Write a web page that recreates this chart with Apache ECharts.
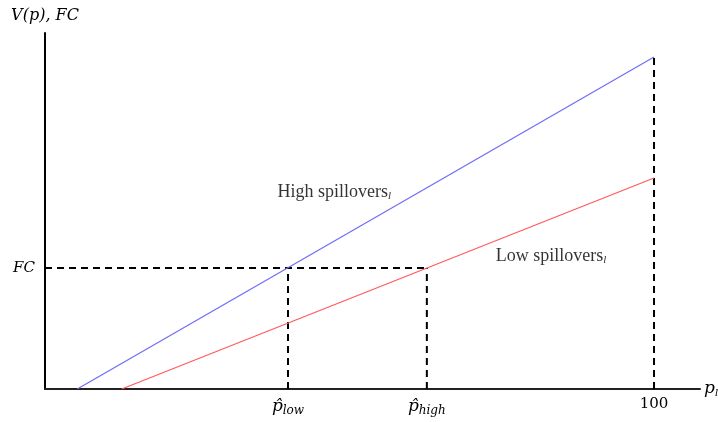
<!DOCTYPE html>
<html>
<head>
<meta charset="utf-8">
<script src="https://cdn.jsdelivr.net/npm/echarts@6/dist/echarts.min.js"></script>
<style>html,body{margin:0;padding:0;background:#fff}#c{width:718px;height:422px}</style>
</head>
<body>
<div id="c"></div>
<script>
// Data
const highX = [5.3, 100];
const highY = [0, 109.75];
const lowX = [12.6, 100];
const lowY = [0, 69.75];
const fcValue = 40;
const pLow = 39.9;
const pHigh = 62.7;
const pMax = 100;
const xTickValues = [pLow, pHigh, pMax];
const xTickLabels = ['{p|p\u0302}{s|low}', '{p|p\u0302}{s|high}', '{n|100}'];
const yTickValues = [fcValue];
const yTickLabels = ['FC'];
const highLabel = 'High spillovers';
const lowLabel = 'Low spillovers';
const highLabelPos = [47.5, 65.1];
const lowLabelPos = [83.1, 43.9];

const chart = echarts.init(document.getElementById('c'));
const serif = 'Liberation Serif';
const dash = { color: '#000', width: 2, type: [7, 5] };

function pairs(xs, ys) { return xs.map((x, i) => [x, ys[i]]); }

chart.setOption({
  animation: false,
  grid: { left: 45, right: 18, top: 33, bottom: 33, outerBoundsMode: 'none', containLabel: false },
  xAxis: {
    type: 'value', min: 0, max: 107.55,
    name: '{i|p}{s|l}', nameLocation: 'end', nameGap: 4,
    nameTextStyle: {
      rich: {
        i: { fontFamily: 'DejaVu Serif', fontStyle: 'italic', fontSize: 17, color: '#000' },
        s: { fontFamily: 'DejaVu Serif', fontStyle: 'italic', fontSize: 10, color: '#000', padding: [8, 0, 0, 0] }
      }
    },
    axisLine: { show: true, onZero: false, lineStyle: { color: '#222', width: 2 } },
    axisTick: { show: false },
    splitLine: { show: false },
    axisLabel: {
      customValues: xTickValues,
      margin: 8,
      formatter: (v) => xTickLabels[xTickValues.indexOf(v)],
      rich: {
        p: { fontFamily: 'DejaVu Serif', fontStyle: 'italic', fontSize: 17, color: '#000' },
        s: { fontFamily: 'DejaVu Serif', fontStyle: 'italic', fontSize: 12, color: '#000', padding: [8, 0, 0, 0] },
        n: { fontFamily: 'DejaVu Serif', fontSize: 15, color: '#000' }
      }
    }
  },
  yAxis: {
    type: 'value', min: 0, max: 117.7,
    name: 'V(p), FC', nameLocation: 'end', nameGap: 9,
    nameTextStyle: { fontFamily: 'DejaVu Serif', fontStyle: 'italic', fontSize: 16, color: '#000' },
    axisLine: { show: true, onZero: false, lineStyle: { color: '#000', width: 2 } },
    axisTick: { show: false },
    splitLine: { show: false },
    axisLabel: {
      customValues: yTickValues,
      margin: 10,
      formatter: (v) => yTickLabels[yTickValues.indexOf(v)],
      fontFamily: 'DejaVu Serif', fontStyle: 'italic', fontSize: 15, color: '#000'
    }
  },
  series: [
    { type: 'line', data: pairs(highX, highY), symbol: 'none', lineStyle: { color: '#6f6cf7', width: 1.2 }, z: 3 },
    { type: 'line', data: pairs(lowX, lowY), symbol: 'none', lineStyle: { color: '#ff5a5a', width: 1.2 }, z: 3 },
    { type: 'line', data: [[0, fcValue], [pHigh, fcValue]], symbol: 'none', lineStyle: dash, z: 2 },
    { type: 'line', data: [[pLow, 0], [pLow, fcValue]], symbol: 'none', lineStyle: dash, z: 2 },
    { type: 'line', data: [[pHigh, 0], [pHigh, fcValue]], symbol: 'none', lineStyle: dash, z: 2 },
    { type: 'line', data: [[pMax, 0], [pMax, highY[1]]], symbol: 'none', lineStyle: dash, z: 2 },
    {
      type: 'scatter', symbolSize: 0, silent: true,
      data: [
        { value: highLabelPos, name: highLabel },
        { value: lowLabelPos, name: lowLabel }
      ],
      label: {
        show: true, position: 'inside',
        formatter: (p) => '{t|' + p.name + '}{s|l}',
        rich: {
          t: { fontFamily: serif, fontSize: 18, color: '#000' },
          s: { fontFamily: serif, fontStyle: 'italic', fontSize: 11, color: '#000', padding: [8, 0, 0, 0] }
        }
      }
    }
  ]
});
</script>
</body>
</html>
